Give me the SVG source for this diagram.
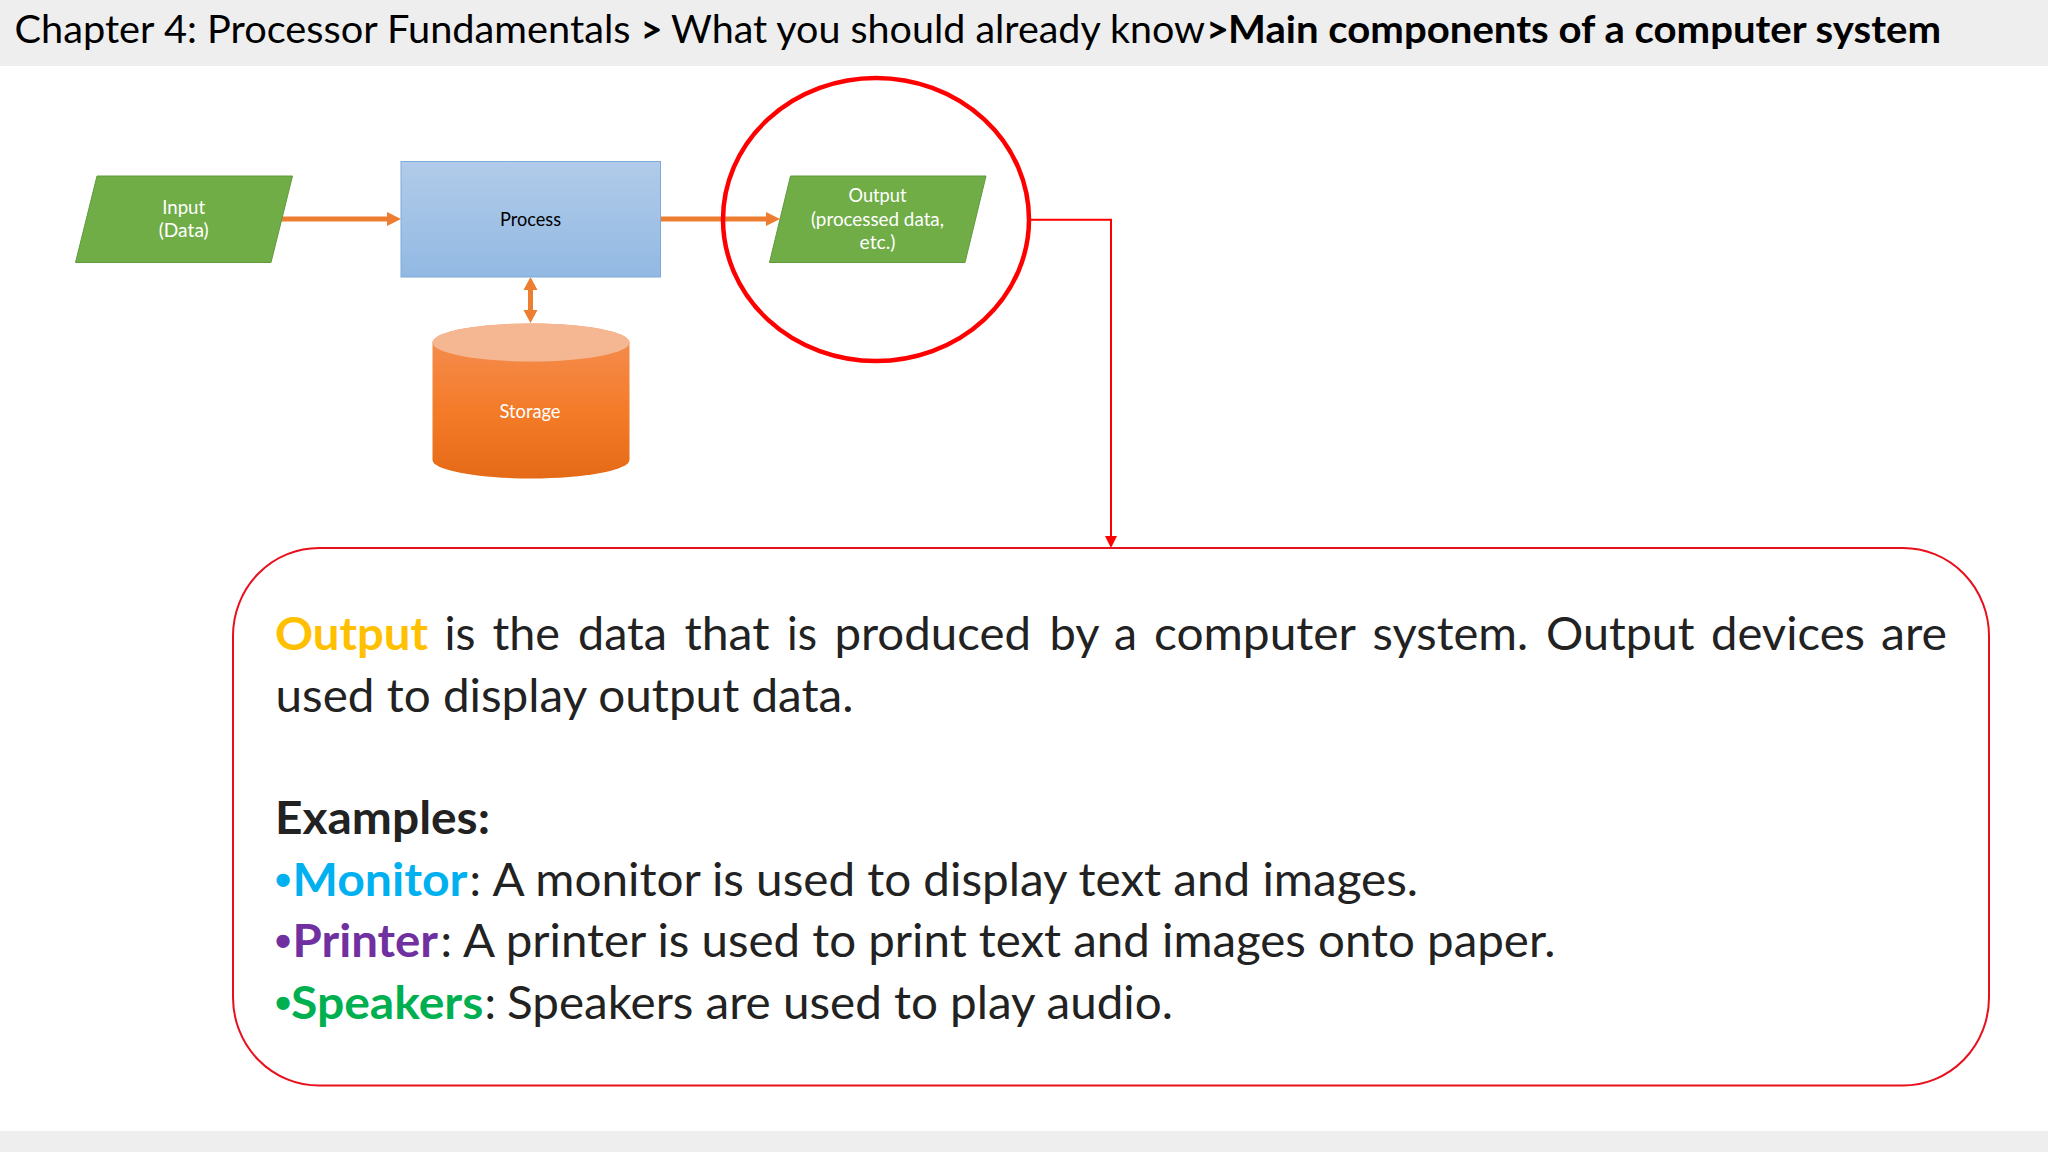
<svg xmlns="http://www.w3.org/2000/svg" width="2048" height="1152" viewBox="0 0 2048 1152">
<style>
text{font-family:Lato,"Liberation Sans",sans-serif}
.t{font-size:38px;fill:#000}
.b{font-size:46px;fill:#222}
.n{font-size:19.500px;fill:#fff;text-anchor:middle}
.bd{font-weight:700}
.bu{font-family:"Liberation Sans",sans-serif;font-weight:700}
.oa{stroke:#ed7d31;stroke-width:5;fill:none}
</style>
<defs>
<linearGradient id="blue" x1="0" y1="0" x2="0" y2="1"><stop offset="0" stop-color="#b1cbe9"/><stop offset="1" stop-color="#92b9e3"/></linearGradient>
<linearGradient id="or" x1="0" y1="0" x2="0" y2="1"><stop offset="0" stop-color="#f59056"/><stop offset=".6" stop-color="#f37a26"/><stop offset="1" stop-color="#e56a17"/></linearGradient>
</defs>
<rect width="2048" height="1152" fill="#fff"/>
<g id="header"><rect width="2048" height="66" fill="#eeeeee"/><rect y="1131" width="2048" height="21" fill="#eeeeee"/>
<text class="t" y="42.500"><tspan x="14.500" textLength="616" lengthAdjust="spacingAndGlyphs">Chapter 4: Processor Fundamentals</tspan><tspan x="640.500" class="bd" textLength="22" lengthAdjust="spacingAndGlyphs">&gt;</tspan><tspan x="671" textLength="534" lengthAdjust="spacingAndGlyphs">What you should already know</tspan><tspan x="1206" class="bd" textLength="23" lengthAdjust="spacingAndGlyphs">&gt;</tspan><tspan x="1228" class="bd" textLength="713" lengthAdjust="spacingAndGlyphs">Main components of a computer system</tspan></text></g>
<g id="connectors">
<path class="oa" d="M281 219H390"/><path d="M387 212L401 219L387 226Z" fill="#ed7d31"/>
<path class="oa" d="M661 219H769"/><path d="M766 212L780 219L766 226Z" fill="#ed7d31"/>
<path class="oa" d="M530.500 288V312"/><path d="M523.500 290L530.500 277L537.500 290ZM523.500 310L530.500 323L537.500 310Z" fill="#ed7d31"/>
<path d="M1030 219.700H1111V538" fill="none" stroke="#f00" stroke-width="2"/><path d="M1105 536L1111 548L1117 536Z" fill="#f00"/>
</g>
<g id="input"><path d="M97 176H292.500L271 262.500H75.500Z" fill="#70ad47" stroke="#5f9a3c" stroke-width="1"/><text class="n" x="183.700" y="213.500" textLength="43" lengthAdjust="spacingAndGlyphs">Input</text><text class="n" x="183.700" y="237" textLength="50" lengthAdjust="spacingAndGlyphs">(Data)</text></g>
<g id="process"><rect x="401" y="161.500" width="259.500" height="115.500" fill="url(#blue)" stroke="#7fa9db" stroke-width="1"/><text class="n" style="fill:#000" x="530.500" y="225.500" textLength="61" lengthAdjust="spacingAndGlyphs">Process</text></g>
<g id="storage"><path d="M432.500 342.500C432.500 332 476 323.500 531 323.500S629.500 332 629.500 342.500V460C629.500 470 585 478.500 531 478.500S432.500 470 432.500 460Z" fill="url(#or)"/><ellipse cx="531" cy="342.500" rx="98.500" ry="19" fill="#f5b792"/><text class="n" x="530" y="417.500" textLength="61" lengthAdjust="spacingAndGlyphs">Storage</text></g>
<g id="output"><path d="M790.500 176H986L965 262.500H769.500Z" fill="#70ad47" stroke="#5f9a3c" stroke-width="1"/><text class="n" x="877.500" y="201.500" textLength="58" lengthAdjust="spacingAndGlyphs">Output</text><text class="n" x="877.500" y="225.500" textLength="133" lengthAdjust="spacingAndGlyphs">(processed data,</text><text class="n" x="877.500" y="249" textLength="36" lengthAdjust="spacingAndGlyphs">etc.)</text></g>
<g id="highlight"><ellipse cx="876" cy="219.500" rx="153" ry="141.500" fill="none" stroke="#f00" stroke-width="4.500"/></g>
<g id="callout"><rect x="233" y="548" width="1756" height="537.500" rx="86" ry="88" fill="none" stroke="#e8101c" stroke-width="2"/>
<text class="b" y="650"><tspan x="275" class="bd" style="fill:#ffc000" textLength="153" lengthAdjust="spacingAndGlyphs">Output</tspan><tspan x="444.500" textLength="31" lengthAdjust="spacingAndGlyphs">is</tspan><tspan x="492.500" textLength="67.500" lengthAdjust="spacingAndGlyphs">the</tspan><tspan x="578" textLength="89" lengthAdjust="spacingAndGlyphs">data</tspan><tspan x="684.500" textLength="85" lengthAdjust="spacingAndGlyphs">that</tspan><tspan x="787" textLength="30" lengthAdjust="spacingAndGlyphs">is</tspan><tspan x="834.500" textLength="196.500" lengthAdjust="spacingAndGlyphs">produced</tspan><tspan x="1049.500" textLength="50" lengthAdjust="spacingAndGlyphs">by</tspan><tspan x="1114" textLength="23" lengthAdjust="spacingAndGlyphs">a</tspan><tspan x="1154" textLength="202" lengthAdjust="spacingAndGlyphs">computer</tspan><tspan x="1372.500" textLength="155.500" lengthAdjust="spacingAndGlyphs">system.</tspan><tspan x="1546" textLength="148.500" lengthAdjust="spacingAndGlyphs">Output</tspan><tspan x="1711" textLength="154" lengthAdjust="spacingAndGlyphs">devices</tspan><tspan x="1881" textLength="66" lengthAdjust="spacingAndGlyphs">are</tspan></text>
<text class="b" x="275.500" y="712" textLength="578" lengthAdjust="spacingAndGlyphs">used to display output data.</text>
<text class="b bd" x="275" y="834" textLength="215" lengthAdjust="spacingAndGlyphs">Examples:</text>
<text class="b" y="896"><tspan x="275" class="bu" style="fill:#00b0f0">•</tspan><tspan x="292.500" class="bd" style="fill:#00b0f0" textLength="175" lengthAdjust="spacingAndGlyphs">Monitor</tspan><tspan x="469.500">:</tspan><tspan x="492.500" textLength="925.500" lengthAdjust="spacingAndGlyphs">A monitor is used to display text and images.</tspan></text>
<text class="b" y="957"><tspan x="275" class="bu" style="fill:#7030a0">•</tspan><tspan x="292.500" class="bd" style="fill:#7030a0" textLength="145.500" lengthAdjust="spacingAndGlyphs">Printer</tspan><tspan x="440.500">:</tspan><tspan x="463" textLength="1092.500" lengthAdjust="spacingAndGlyphs">A printer is used to print text and images onto paper.</tspan></text>
<text class="b" y="1019"><tspan x="275" class="bu" style="fill:#00b050">•</tspan><tspan x="291" class="bd" style="fill:#00b050" textLength="192.300" lengthAdjust="spacingAndGlyphs">Speakers</tspan><tspan x="484.500">:</tspan><tspan x="507" textLength="666" lengthAdjust="spacingAndGlyphs">Speakers are used to play audio.</tspan></text>
</g>
</svg>
